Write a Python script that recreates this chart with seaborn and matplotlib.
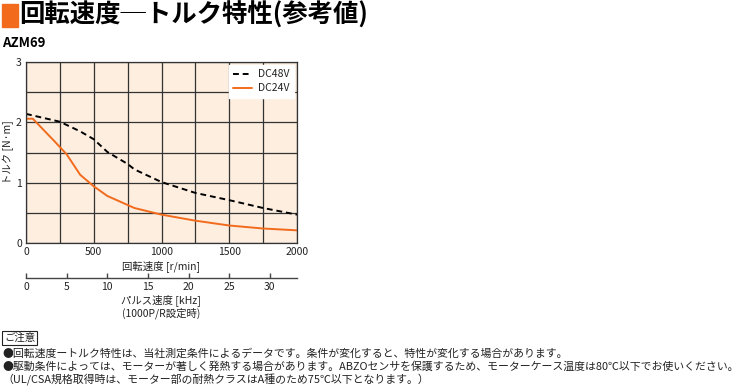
"""Speed-torque characteristics chart (AZM69) recreated with seaborn."""

import matplotlib

matplotlib.use("Agg")
import matplotlib.pyplot as plt
import matplotlib.patches as mpatches
import pandas as pd
import seaborn as sns

# --- data ---
speed_48v = [0, 250, 400, 500, 600, 750, 800, 1000, 1250, 1500, 1750, 2000]
torque_48v = [2.14, 2.01, 1.85, 1.72, 1.51, 1.31, 1.22, 1.01, 0.83, 0.71, 0.58, 0.47]
speed_24v = [0, 50, 200, 300, 400, 500, 600, 800, 1000, 1250, 1500, 1750, 2000]
torque_24v = [2.06, 2.06, 1.71, 1.47, 1.13, 0.94, 0.78, 0.58, 0.47, 0.37, 0.29, 0.24, 0.21]
series_names = ["DC48V", "DC24V"]
speed_ticks = [0, 500, 1000, 1500, 2000]
torque_ticks = [0, 1, 2, 3]
pulse_ticks = [0, 5, 10, 15, 20, 25, 30]

title = "回転速度─トルク特性(参考値)"
model = "AZM69"
notes = [
    "●回転速度ートルク特性は、当社測定条件によるデータです。条件が変化すると、特性が変化する場合があります。",
    "●駆動条件によっては、モーターが著しく発熱する場合があります。ABZOセンサを保護するため、モーターケース温度は80℃以下でお使いください。",
    "（UL/CSA規格取得時は、モーター部の耐熱クラスはA種のため75℃以下となります。）",
]

df = pd.concat([
    pd.DataFrame({"speed": speed_48v, "torque": torque_48v, "series": series_names[0]}),
    pd.DataFrame({"speed": speed_24v, "torque": torque_24v, "series": series_names[1]}),
])

sns.set_style("white", {"xtick.bottom": True})
FONTS = ["Noto Sans CJK JP", "DejaVu Sans"]
plt.rcParams["font.family"] = FONTS
ORANGE = "#f26b1d"
TXT = "#222222"
LINE = "#444444"

fig = plt.figure(figsize=(7.46, 3.87), dpi=100)
ax = fig.add_axes([26 / 746, 1 - 243 / 387, 271 / 746, 181 / 387])
ax.set_facecolor("#fdeedf")

sns.lineplot(
    data=df, x="speed", y="torque", hue="series", style="series",
    palette={"DC48V": "black", "DC24V": ORANGE},
    dashes={"DC48V": (3, 2), "DC24V": ""},
    linewidth=1.4, ax=ax, sort=False,
)

ax.set_xlim(0, 2000)
ax.set_ylim(0, 3)
ax.set_xticks(range(0, 2001, 250), minor=False)
ax.set_xticklabels([str(v) if v in speed_ticks else "" for v in range(0, 2001, 250)])
ax.set_yticks([i * 0.5 for i in range(7)])
ax.set_yticklabels([f"{v:g}" if v in torque_ticks else "" for v in [i * 0.5 for i in range(7)]])
ax.grid(True, color="#333333", linewidth=0.9)
ax.set_axisbelow(True)
for s in ax.spines.values():
    s.set_color("#333333")
    s.set_linewidth(0.9)
ax.tick_params(axis="both", length=0, labelsize=7.5, colors=TXT, pad=3)
ax.set_xlabel("回転速度 [r/min]", fontsize=7.5, color=TXT, labelpad=2)
ax.set_ylabel("")
fig.text(8 / 746, 1 - 152 / 387, "トルク [N·m]", rotation=90, ha="center", va="center",
         fontsize=7.5, color=TXT)

leg = ax.legend(
    loc="upper right", fontsize=7.5, frameon=True, fancybox=False,
    handlelength=1.8, handletextpad=0.6, borderaxespad=0.25,
    labelspacing=0.4, borderpad=0.45,
)
leg.get_frame().set_facecolor("white")
leg.get_frame().set_edgecolor("white")
leg.get_frame().set_alpha(1)
for t in leg.get_texts():
    t.set_color(TXT)

# pulse-speed axis (1000 P/R => 2000 r/min = 33.33 kHz)
sec = ax.secondary_xaxis(-35 / 181, functions=(lambda r: r / 60, lambda p: p * 60))
sec.set_xticks(pulse_ticks)
sec.spines["bottom"].set_color(LINE)
sec.spines["bottom"].set_linewidth(1.0)
sec.tick_params(axis="x", which="major", bottom=True, direction="in", length=3.5,
                width=1.0, color=LINE, labelcolor=TXT, labelsize=7.5, pad=3)
fig.text(161 / 746, 1 - 300 / 387, "パルス速度 [kHz]", ha="center", va="center",
         fontsize=7.5, color=TXT)
fig.text(161 / 746, 1 - 313 / 387, "(1000P/R設定時)", ha="center", va="center",
         fontsize=7.5, color=TXT)

# title block
fig.patches.append(mpatches.Rectangle((2 / 746, 1 - 27 / 387), 16 / 746, 23 / 387,
                                      transform=fig.transFigure, color=ORANGE))
fig.text(19 / 746, 1 - 15 / 387, title, ha="left", va="center", fontsize=18.3,
         fontweight="bold", color="black")
fig.text(2 / 746, 1 - 43 / 387, model, ha="left", va="center", fontsize=9.5,
         fontweight="bold", color="black")

# notes
fig.text(4 / 746, 1 - 338 / 387, "ご注意", ha="left", va="center", fontsize=7.5,
         color=TXT, bbox=dict(boxstyle="square,pad=0.15", fc="white", ec="#222222", lw=0.8))
for i, line in enumerate(notes):
    fig.text(2 / 746, 1 - (353.5 + 13.5 * i) / 387, line, ha="left", va="center",
             fontsize=7.85, color=TXT)

fig.savefig("out.png", dpi=100)
